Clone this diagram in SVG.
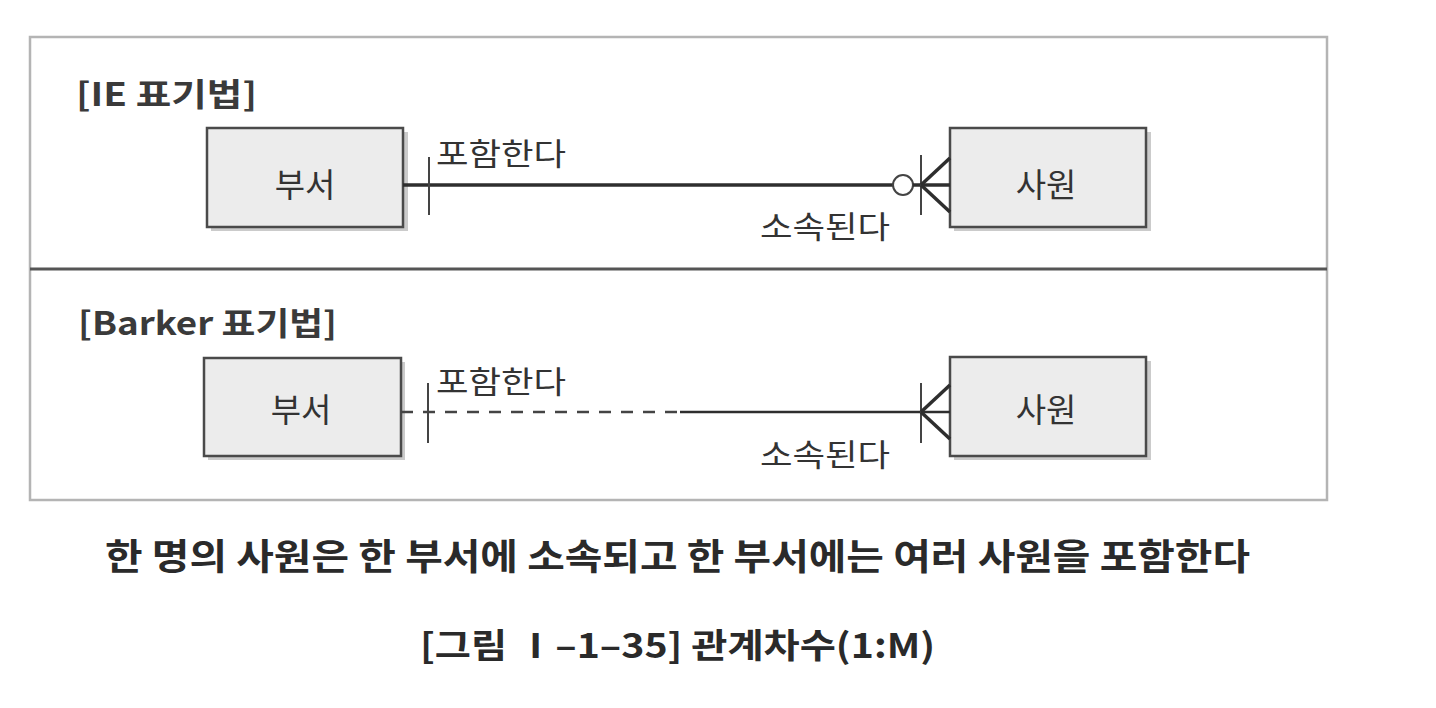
<svg xmlns="http://www.w3.org/2000/svg" width="1436" height="708" viewBox="0 0 1436 708">
<defs>
<style>
.frame{fill:none;stroke:#b4b4b4;stroke-width:2.5}
.div{stroke:#555;stroke-width:3}
.shadow{fill:#a9a9a9;opacity:0.6}
.box{fill:#ececec;stroke:#4a4a4a;stroke-width:2.5}
.t{font-family:"Noto Sans CJK KR","Liberation Sans",sans-serif;fill:#333}
.ent{font-size:33px;text-anchor:middle}
.lbl{font-size:31px}
.hd{font-size:32px;font-weight:bold;fill:#3a3a3a}
.cap{font-size:36px;font-weight:bold;fill:#2a2a2a}
.ln{stroke:#2e2e2e;stroke-width:3.5;fill:none}
.thin{stroke:#444;stroke-width:2;fill:none}
.dash{stroke:#444;stroke-width:2.5;stroke-dasharray:12,10;fill:none}
</style>
</defs>
<rect width="1436" height="708" fill="#fff"/>
<rect class="frame" x="30" y="37" width="1297" height="463"/>
<line class="div" x1="30" y1="269" x2="1327" y2="269"/>
<text class="t hd" x="76" y="106" textLength="181" lengthAdjust="spacingAndGlyphs">[IE 표기법]</text>
<text class="t hd" x="78" y="335" textLength="259" lengthAdjust="spacingAndGlyphs">[Barker 표기법]</text>

<g id="ie-dept">
<rect class="shadow" x="211" y="132" width="197" height="99"/>
<rect class="box" x="207" y="128" width="196" height="99"/>
<text class="t ent" x="305" y="197">부서</text>
</g>
<g id="ie-emp">
<rect class="shadow" x="954" y="132" width="197" height="99"/>
<rect class="box" x="950" y="128" width="196" height="99"/>
<text class="t ent" x="1046" y="197">사원</text>
</g>
<g id="bk-dept">
<rect class="shadow" x="208" y="362" width="197" height="98"/>
<rect class="box" x="204" y="358" width="197" height="98"/>
<text class="t ent" x="301" y="422">부서</text>
</g>
<g id="bk-emp">
<rect class="shadow" x="954" y="361" width="197" height="99"/>
<rect class="box" x="950" y="357" width="196" height="99"/>
<text class="t ent" x="1046" y="422">사원</text>
</g>

<g id="connectors">
<line class="ln" x1="403" y1="185" x2="893" y2="185"/>
<line class="thin" x1="429" y1="157" x2="429" y2="215"/>
<circle class="thin" cx="903" cy="185" r="10"/>
<line class="ln" x1="913" y1="185" x2="950" y2="185"/>
<line class="thin" x1="921" y1="155" x2="921" y2="215"/>
<line class="ln" x1="921" y1="185" x2="950" y2="158"/>
<line class="ln" x1="921" y1="185" x2="950" y2="212"/>

<line class="dash" x1="401" y1="412" x2="680" y2="412"/>
<line class="ln" x1="680" y1="412" x2="950" y2="412" style="stroke-width:2.5"/>
<line class="thin" x1="428" y1="383" x2="428" y2="443"/>
<line class="thin" x1="921" y1="383" x2="921" y2="443"/>
<line class="ln" x1="921" y1="412" x2="950" y2="385"/>
<line class="ln" x1="921" y1="412" x2="950" y2="439"/>
</g>

<text class="t lbl" x="436" y="165" textLength="130" lengthAdjust="spacingAndGlyphs">포함한다</text>
<text class="t lbl" x="760" y="238" textLength="130" lengthAdjust="spacingAndGlyphs">소속된다</text>
<text class="t lbl" x="436" y="393" textLength="130" lengthAdjust="spacingAndGlyphs">포함한다</text>
<text class="t lbl" x="760" y="466" textLength="130" lengthAdjust="spacingAndGlyphs">소속된다</text>

<text class="t cap" x="105" y="570" textLength="1145" lengthAdjust="spacingAndGlyphs">한 명의 사원은 한 부서에 소속되고 한 부서에는 여러 사원을 포함한다</text>
<text class="t cap" x="420" y="658" style="font-size:34px" textLength="515" lengthAdjust="spacingAndGlyphs">[그림 Ⅰ–1–35] 관계차수(1:M)</text>
</svg>
